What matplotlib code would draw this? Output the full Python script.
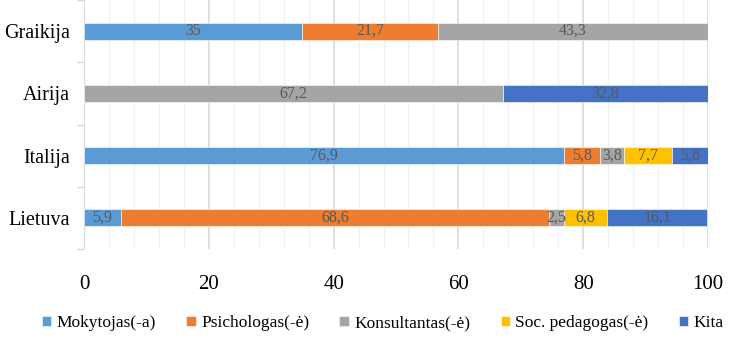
import numpy as np
import matplotlib
matplotlib.use("Agg")
import matplotlib.pyplot as plt
from matplotlib.ticker import MultipleLocator

plt.rcParams["font.family"] = ["Liberation Serif", "DejaVu Serif"]

countries = ["Graikija", "Airija", "Italija", "Lietuva"]
series = ["Mokytojas(-a)", "Psichologas(-ė)", "Konsultantas(-ė)",
          "Soc. pedagogas(-ė)", "Kita"]
colors = ["#5B9BD5", "#ED7D31", "#A5A5A5", "#FFC000", "#4472C4"]
values = {
    "Mokytojas(-a)":      [35.0, 0.0, 76.9, 5.9],
    "Psichologas(-ė)":    [21.7, 0.0, 5.8, 68.6],
    "Konsultantas(-ė)":   [43.3, 67.2, 3.8, 2.5],
    "Soc. pedagogas(-ė)": [0.0, 0.0, 7.7, 6.8],
    "Kita":               [0.0, 32.8, 5.8, 16.1],
}

fig = plt.figure(figsize=(7.36, 3.43), dpi=100)
ax = fig.add_axes([84 / 736, 1 - 249 / 343, 624 / 736, 249 / 343])

y = np.arange(len(countries))[::-1]
left = np.zeros(len(countries))
for name, col in zip(series, colors):
    vals = np.array(values[name])
    bars = ax.barh(y, vals, left=left, height=0.27, color=col,
                   edgecolor="white", linewidth=0.4, label=name, zorder=3)
    for b, v in zip(bars, vals):
        if v > 0:
            ax.text(b.get_x() + b.get_width() / 2, b.get_y() + b.get_height() / 2,
                    f"{v:g}".replace(".", ","), ha="center", va="center",
                    fontsize=11.5, color="#595959", zorder=4)
    left += vals

ax.set_xlim(0, 100)
ax.set_ylim(-0.5, 3.5)
ax.xaxis.set_major_locator(MultipleLocator(20))
ax.xaxis.set_minor_locator(MultipleLocator(4))
ax.grid(axis="x", which="major", color="#D9D9D9", lw=1.2, zorder=0)
ax.grid(axis="x", which="minor", color="#F0F0F0", lw=0.9, zorder=0)
ax.set_axisbelow(True)

ax.set_yticks(y)
ax.set_yticklabels(countries, fontsize=14.5)
ax.set_yticks(np.arange(-0.5, 3.6, 1), minor=True)
ax.tick_params(axis="y", which="major", length=0, pad=10)
ax.tick_params(axis="y", which="minor", length=5, color="#D9D9D9", width=1)
ax.tick_params(axis="x", which="both", length=0, labelsize=15, pad=19)

for s in ["top", "right", "bottom"]:
    ax.spines[s].set_visible(False)
ax.spines["left"].set_color("#D9D9D9")

fig.legend(loc="center", bbox_to_anchor=(0.52, 1 - 323 / 343),
           ncol=5, frameon=False, fontsize=12.5, handlelength=0.55,
           handleheight=0.55, handletextpad=0.3, columnspacing=1.75)

fig.savefig("out.png", dpi=100)
